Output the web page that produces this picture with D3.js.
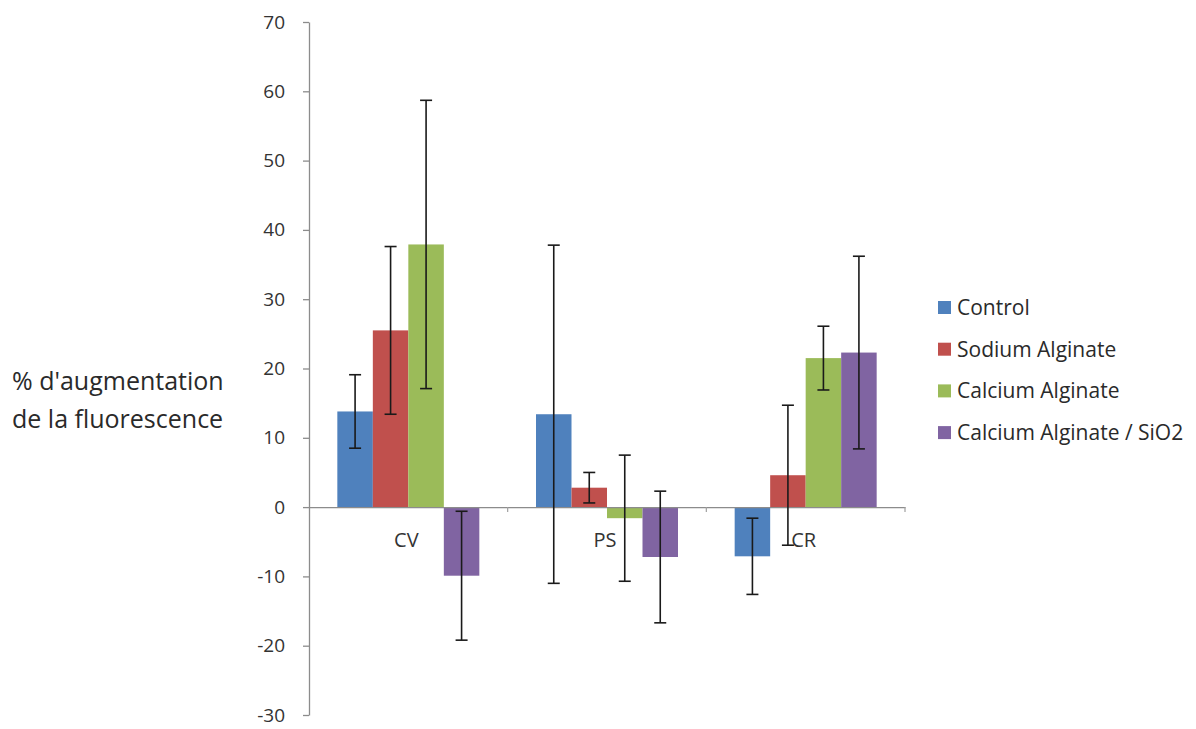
<!DOCTYPE html>
<html>
<head>
<meta charset="utf-8">
<script src="https://cdn.jsdelivr.net/npm/d3@7"></script>
<style>
  html, body { margin: 0; padding: 0; background: #ffffff; }
  svg text { font-family: "Open Sans", "DejaVu Sans", sans-serif; }
</style>
</head>
<body>
<svg id="chart" width="1196" height="729"></svg>
<script>
const categories = ["CV", "PS", "CR"];
const seriesNames = ["Control", "Sodium Alginate", "Calcium Alginate", "Calcium Alginate / SiO2"];
const controlValues = [13.8, 13.4, -7.1];
const sodiumValues = [25.5, 2.8, 4.6];
const calciumValues = [37.9, -1.6, 21.5];
const calciumSiO2Values = [-9.9, -7.2, 22.3];
const controlErrors = [5.3, 24.4, 5.5];
const sodiumErrors = [12.1, 2.2, 10.1];
const calciumErrors = [20.8, 9.1, 4.6];
const calciumSiO2Errors = [9.3, 9.5, 13.9];
const yTicks = [70, 60, 50, 40, 30, 20, 10, 0, -10, -20, -30];
const yTitleLines = ["% d'augmentation", "de la fluorescence"];
const colors = ["#4F81BD", "#C0504D", "#9BBB59", "#8064A2"];

const seriesValues = [controlValues, sodiumValues, calciumValues, calciumSiO2Values];
const seriesErrors = [controlErrors, sodiumErrors, calciumErrors, calciumSiO2Errors];

const rows = [];
seriesNames.forEach((s, si) => {
  categories.forEach((c, ci) => {
    rows.push({ series: s, cat: c, value: seriesValues[si][ci], err: seriesErrors[si][ci], color: colors[si] });
  });
});

const svg = d3.select("#chart");

const x = d3.scaleBand().domain(categories).range([309, 905]).padding(0);
const groupW = 142;
const xInner = d3.scaleBand().domain(seriesNames)
  .range([(x.bandwidth() - groupW) / 2, (x.bandwidth() + groupW) / 2]).padding(0);
const y = d3.scaleLinear().domain([-30, 70]).range([715, 22]);

// Y axis
const yAxis = d3.axisLeft(y).tickValues(yTicks).tickSize(6).tickSizeOuter(0).tickPadding(18)
  .tickFormat(d => String(d));
const yg = svg.append("g").attr("transform", "translate(309,0)").call(yAxis);
yg.select(".domain").attr("stroke", "#8c8c8c").attr("stroke-width", 1.3);
yg.selectAll(".tick line").attr("stroke", "#8c8c8c").attr("stroke-width", 1.3);
yg.selectAll(".tick text")
  .attr("fill", "#333333")
  .style("font-size", "19px")
  .style("font-family", "'Open Sans', sans-serif");

// Bars
const bars = svg.append("g");
bars.selectAll("rect").data(rows).enter().append("rect")
  .attr("x", d => x(d.cat) + xInner(d.series))
  .attr("width", xInner.bandwidth())
  .attr("y", d => y(Math.max(0, d.value)))
  .attr("height", d => Math.abs(y(d.value) - y(0)))
  .attr("fill", d => d.color);

// Category axis (at zero)
const xAxis = d3.axisBottom(x).tickSize(0).tickFormat("");
const xg = svg.append("g").attr("transform", `translate(0,${y(0)})`).call(xAxis);
xg.select(".domain").attr("stroke", "#8c8c8c").attr("stroke-width", 1.3);
// boundary ticks between categories
const boundaries = categories.map(c => x(c)).concat([x.range()[1]]);
svg.append("g").selectAll("line").data(boundaries.slice(1)).enter().append("line")
  .attr("x1", d => d).attr("x2", d => d)
  .attr("y1", y(0)).attr("y2", y(0) + 5)
  .attr("stroke", "#a0a0a0").attr("stroke-width", 1.2);

// Category labels
svg.append("g").selectAll("text").data(categories).enter().append("text")
  .attr("x", d => x(d) + x.bandwidth() / 2 - 2)
  .attr("y", y(0) + 40)
  .attr("text-anchor", "middle")
  .attr("fill", "#333333")
  .style("font-size", "20px")
  .text(d => d);

// Error bars
const eg = svg.append("g").attr("stroke", "#1a1a1a").attr("stroke-width", 1.6);
rows.forEach(d => {
  const cx = x(d.cat) + xInner(d.series) + xInner.bandwidth() / 2;
  const top = y(d.value + d.err), bot = y(d.value - d.err);
  eg.append("line").attr("x1", cx).attr("x2", cx).attr("y1", top).attr("y2", bot);
  eg.append("line").attr("x1", cx - 6).attr("x2", cx + 6).attr("y1", top).attr("y2", top);
  eg.append("line").attr("x1", cx - 6).attr("x2", cx + 6).attr("y1", bot).attr("y2", bot);
});

// Y title
const yt = svg.append("text").attr("x", 12).attr("y", 390)
  .attr("fill", "#2a2a2a").style("font-size", "25px");
yTitleLines.forEach((t, i) => {
  yt.append("tspan").attr("x", 12).attr("dy", i === 0 ? 0 : 38).text(t);
});

// Legend
const lg = svg.append("g");
const legendItems = lg.selectAll("g").data(seriesNames).enter().append("g")
  .attr("transform", (d, i) => `translate(938,${307 + i * 41.7})`);
legendItems.append("rect").attr("x", 0).attr("y", -6).attr("width", 13).attr("height", 13)
  .attr("fill", (d, i) => colors[i]);
legendItems.append("text").attr("x", 19).attr("y", 8)
  .attr("fill", "#2a2a2a").style("font-size", "21px")
  .text(d => d);
</script>
</body>
</html>
